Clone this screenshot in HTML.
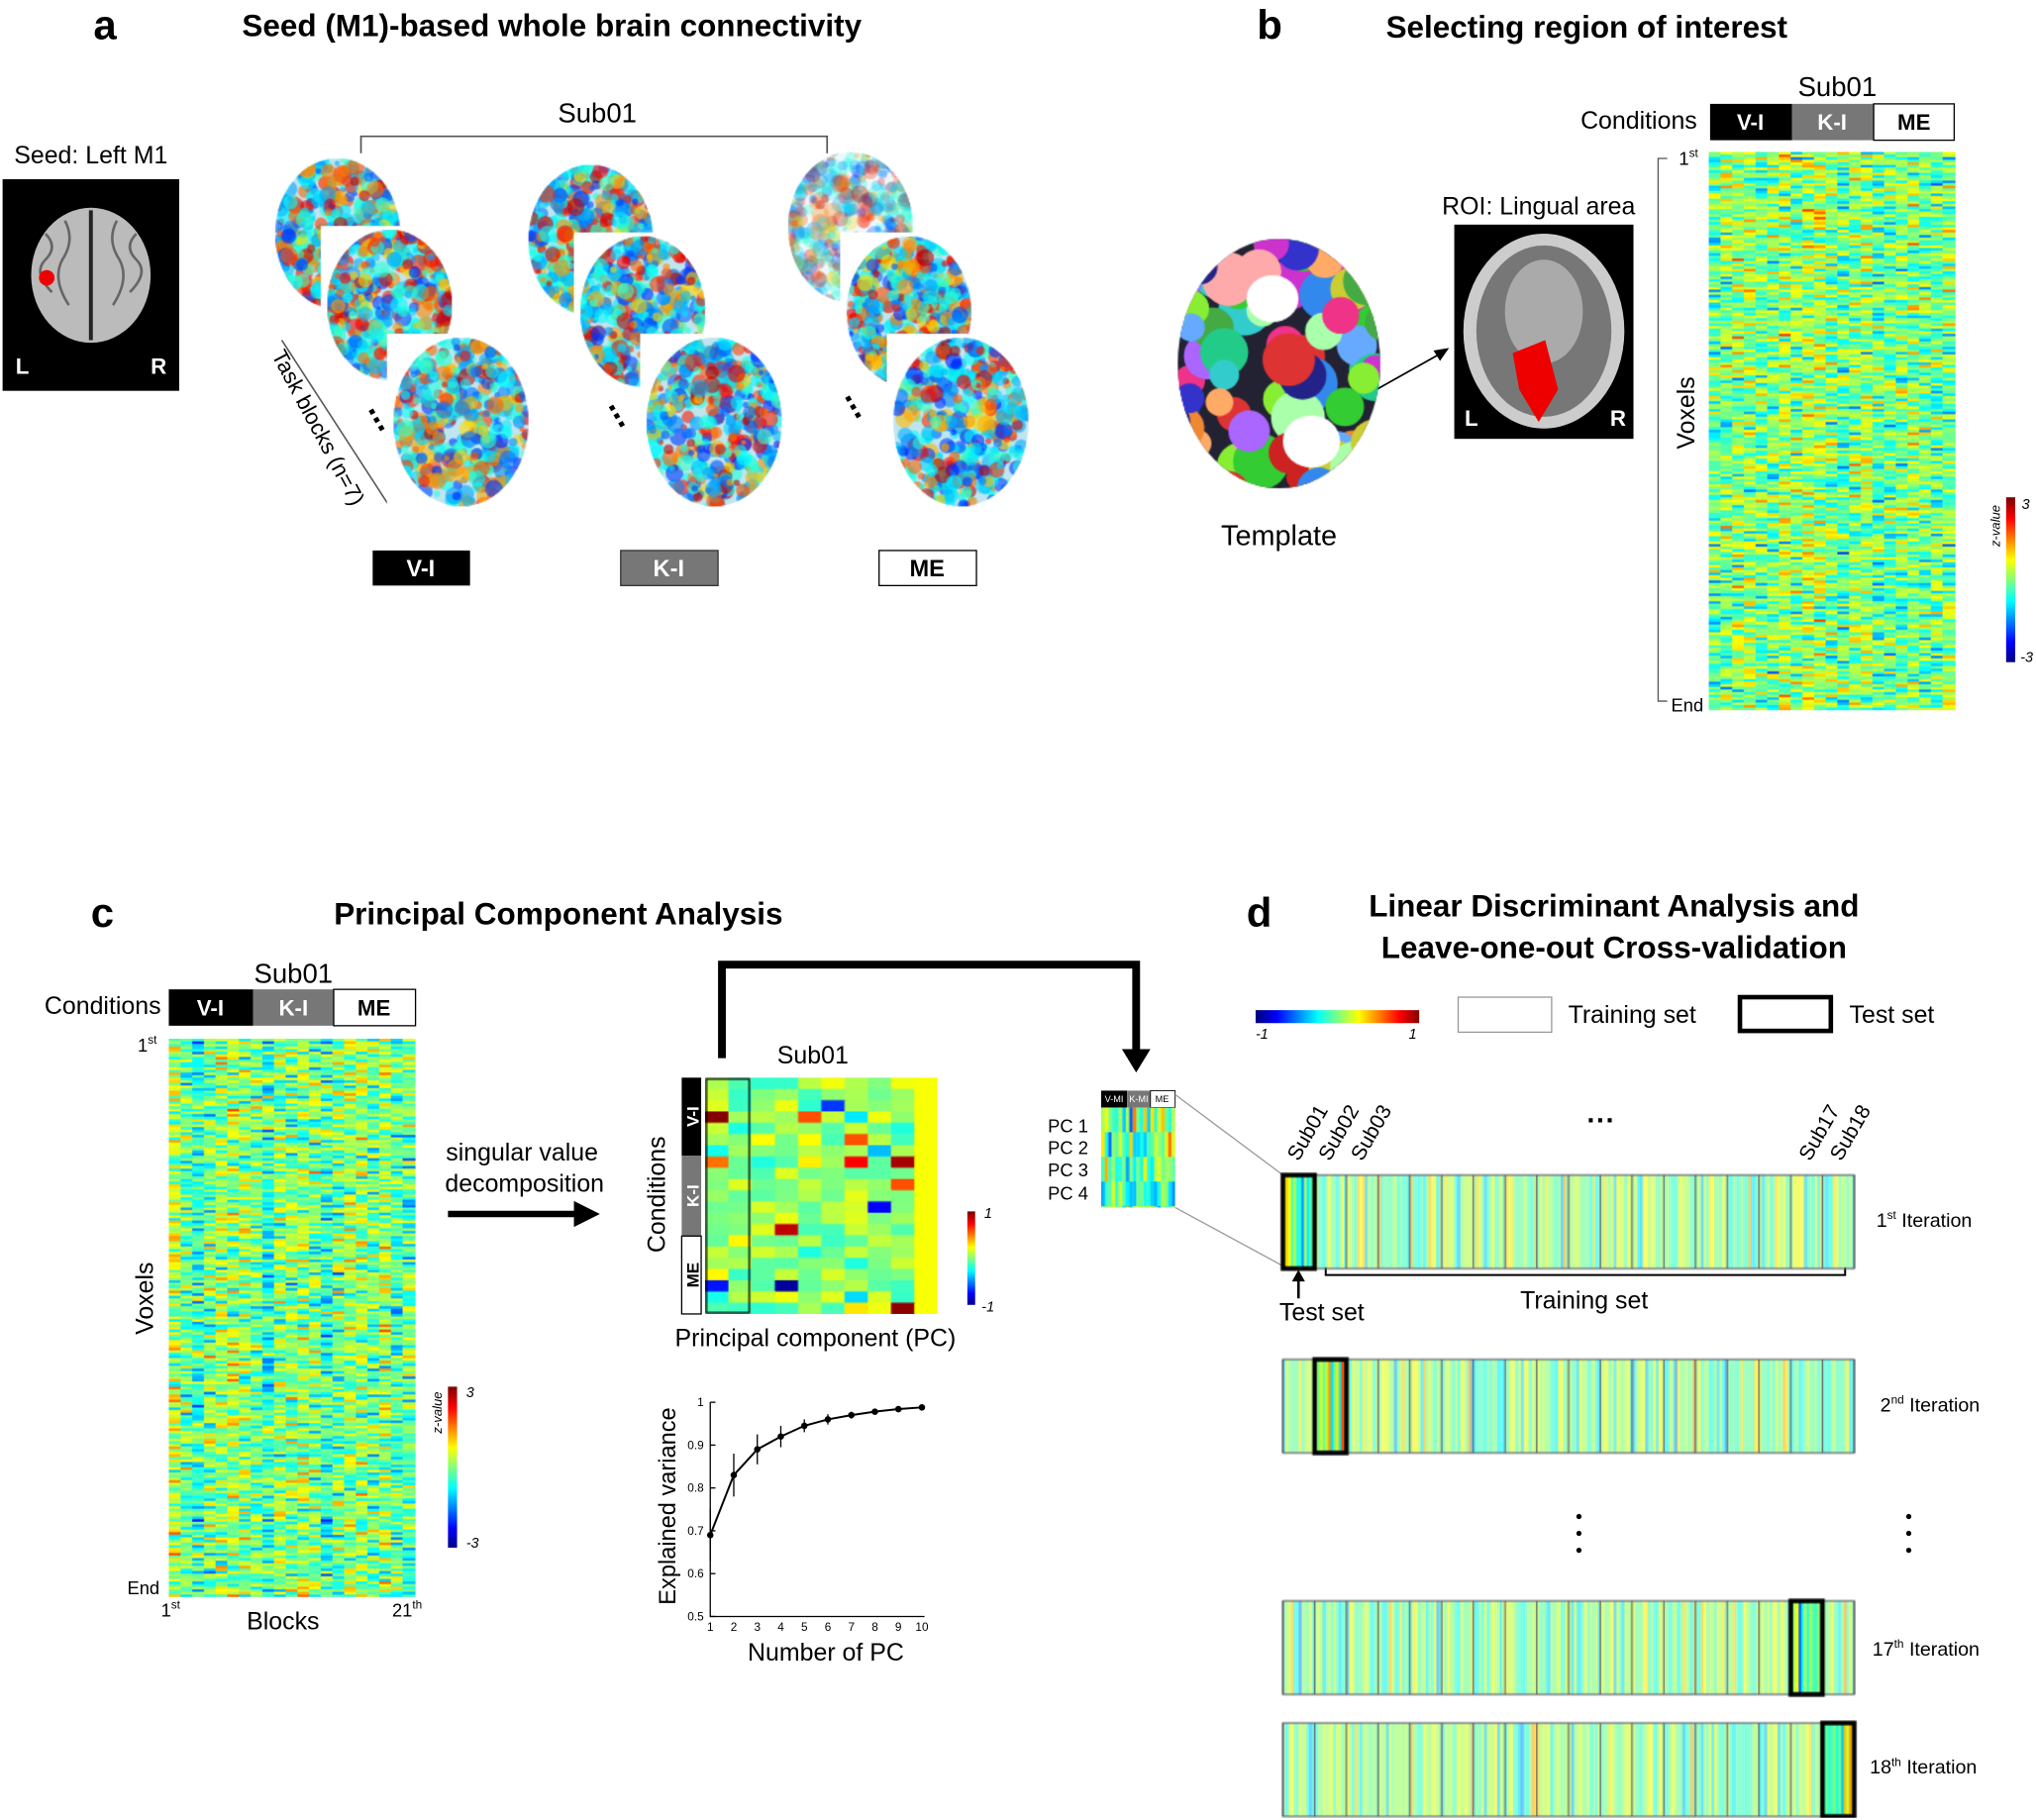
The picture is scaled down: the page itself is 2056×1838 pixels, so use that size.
<!DOCTYPE html>
<html><head><meta charset="utf-8"><style>
html,body{margin:0;padding:0;background:#fff;width:2056px;height:1838px;overflow:hidden}
#c{position:absolute;left:0;top:0;width:1568px;height:1402px;transform:scale(1.31122);transform-origin:0 0;font-family:"Liberation Sans",sans-serif;color:#000}
canvas{position:absolute}
svg{position:absolute;left:0;top:0}
</style></head><body><div id="c">
<svg width="1568" height="1402" viewBox="0 0 1568 1402" font-family="Liberation Sans, sans-serif">
<g font-weight="bold">
<text x="72" y="30" font-size="32">a</text>
<text x="425" y="28" font-size="24" text-anchor="middle">Seed (M1)-based whole brain connectivity</text>
<text x="968" y="30" font-size="32">b</text>
<text x="1222" y="29" font-size="24" text-anchor="middle">Selecting region of interest</text>
<text x="70" y="714" font-size="32">c</text>
<text x="430" y="712" font-size="24" text-anchor="middle">Principal Component Analysis</text>
<text x="960" y="714" font-size="32">d</text>
<text x="1243" y="706" font-size="24" text-anchor="middle">Linear Discriminant Analysis and</text>
<text x="1243" y="738" font-size="24" text-anchor="middle">Leave-one-out Cross-validation</text>
</g>
<g font-size="19">
<text x="70" y="126" text-anchor="middle">Seed: Left M1</text>
<text x="460" y="94" text-anchor="middle" font-size="21">Sub01</text>
<text x="985" y="420" text-anchor="middle" font-size="22">Template</text>
<text x="1185" y="165" text-anchor="middle">ROI: Lingual area</text>
<text x="1415" y="74" text-anchor="middle" font-size="21">Sub01</text>
<text x="1307" y="99" text-anchor="end">Conditions</text>
<text x="226" y="757" text-anchor="middle" font-size="21">Sub01</text>
<text x="124" y="781" text-anchor="end">Conditions</text>
<text x="402" y="894" text-anchor="middle">singular value</text>
<text x="404" y="918" text-anchor="middle">decomposition</text>
<text x="626" y="819" text-anchor="middle">Sub01</text>
<text x="628" y="1037" text-anchor="middle">Principal component (PC)</text>
<text x="636" y="1279" text-anchor="middle">Number of PC</text>
<text x="218" y="1255" text-anchor="middle">Blocks</text>
<text x="1257" y="788" text-anchor="middle">Training set</text>
<text x="1457" y="788" text-anchor="middle">Test set</text>
<text x="1018" y="1017" text-anchor="middle">Test set</text>
<text x="1220" y="1008" text-anchor="middle">Training set</text>
</g>
<text transform="translate(1305,318) rotate(-90)" font-size="19" text-anchor="middle">Voxels</text>
<text transform="translate(118,1000) rotate(-90)" font-size="19" text-anchor="middle">Voxels</text>
<text transform="translate(512,920) rotate(-90)" font-size="19" text-anchor="middle">Conditions</text>
<text transform="translate(520,1160) rotate(-90)" font-size="18" text-anchor="middle">Explained variance</text>
<text transform="translate(240,332) rotate(62)" font-size="17" text-anchor="middle">Task blocks (n=7)</text>
<line x1="217" y1="262" x2="300" y2="390" stroke="#555" stroke-width="1.2"/>
<path d="M278 118 V105 H637 V118" fill="none" stroke="#555" stroke-width="1.3"/>
<rect x="2" y="138" width="136" height="163" fill="#000"/>
<ellipse cx="70" cy="212" rx="46" ry="52" fill="#bbb"/>
<path d="M70 162 V262" stroke="#222" stroke-width="3"/>
<g stroke="#666" stroke-width="2" fill="none"><path d="M35 180 q10 10 0 20 q-10 10 5 25"/><path d="M50 170 q8 15 -2 30 q-8 15 5 35"/><path d="M90 170 q-8 15 2 30 q8 15 -5 35"/><path d="M105 180 q-10 10 0 20 q10 10 -5 25"/></g>
<circle cx="36" cy="214" r="6" fill="#e00"/>
<text x="12" y="288" fill="#fff" font-size="17" font-weight="bold">L</text>
<text x="116" y="288" fill="#fff" font-size="17" font-weight="bold">R</text>
<rect x="287" y="424" width="75" height="27" fill="#000"/><text x="324" y="444" fill="#fff" font-size="18" font-weight="bold" text-anchor="middle">V-I</text>
<rect x="478" y="424" width="75" height="27" fill="#777" stroke="#333"/><text x="515" y="444" fill="#fff" font-size="18" font-weight="bold" text-anchor="middle">K-I</text>
<rect x="677" y="424" width="75" height="27" fill="#fff" stroke="#000"/><text x="714" y="444" font-size="18" font-weight="bold" text-anchor="middle">ME</text>
<rect x="1120" y="173" width="138" height="165" fill="#000"/>
<ellipse cx="1189" cy="255" rx="62" ry="75" fill="#ccc"/>
<ellipse cx="1189" cy="255" rx="52" ry="66" fill="#777"/>
<ellipse cx="1189" cy="240" rx="30" ry="40" fill="#aaa"/>
<path d="M1165 272 L1190 262 L1200 300 L1185 325 L1170 300 Z" fill="#e00"/>
<text x="1128" y="328" fill="#fff" font-size="17" font-weight="bold">L</text>
<text x="1240" y="328" fill="#fff" font-size="17" font-weight="bold">R</text>
<line x1="978" y1="346" x2="1110" y2="272" stroke="#000" stroke-width="1.3"/>
<path d="M1116 268 l-12 2 5 8z" fill="#000"/>
<rect x="1317" y="80" width="63" height="28" fill="#000"/><text x="1348" y="100" fill="#fff" font-size="17" font-weight="bold" text-anchor="middle">V-I</text>
<rect x="1380" y="80" width="63" height="28" fill="#777"/><text x="1411" y="100" fill="#fff" font-size="17" font-weight="bold" text-anchor="middle">K-I</text>
<rect x="1443" y="80" width="62" height="28" fill="#fff" stroke="#000"/><text x="1474" y="100" font-size="17" font-weight="bold" text-anchor="middle">ME</text>
<path d="M1284 122 H1277 V540 H1284" fill="none" stroke="#555"/>
<text x="1293" y="127" font-size="14">1<tspan font-size="9" dy="-6">st</tspan></text>
<text x="1287" y="548" font-size="14">End</text>
<rect x="130" y="762" width="65" height="28" fill="#000"/><text x="162" y="782" fill="#fff" font-size="17" font-weight="bold" text-anchor="middle">V-I</text>
<rect x="195" y="762" width="62" height="28" fill="#777"/><text x="226" y="782" fill="#fff" font-size="17" font-weight="bold" text-anchor="middle">K-I</text>
<rect x="257" y="762" width="63" height="28" fill="#fff" stroke="#000"/><text x="288" y="782" font-size="17" font-weight="bold" text-anchor="middle">ME</text>
<text x="106" y="810" font-size="14">1<tspan font-size="9" dy="-6">st</tspan></text>
<text x="98" y="1228" font-size="14">End</text>
<text x="124" y="1245" font-size="14">1<tspan font-size="9" dy="-6">st</tspan></text>
<text x="302" y="1245" font-size="14">21<tspan font-size="9" dy="-6">th</tspan></text>
<g font-size="11" font-style="italic">
<text x="1557" y="392">3</text><text x="1556" y="510">-3</text>
<text transform="translate(1540,405) rotate(-90)" text-anchor="middle" font-size="10">z-value</text>
<text x="359" y="1076">3</text><text x="359" y="1192">-3</text>
<text transform="translate(340,1088) rotate(-90)" text-anchor="middle" font-size="10">z-value</text>
<text x="758" y="938">1</text><text x="756" y="1010">-1</text>
<text x="967" y="800">-1</text><text x="1085" y="800">1</text>
</g>
<line x1="345" y1="935" x2="445" y2="935" stroke="#000" stroke-width="5"/>
<path d="M462 935 l-20 -10 v20z" fill="#000"/>
<rect x="525" y="830" width="15" height="60" fill="#000"/>
<rect x="525" y="890" width="15" height="62" fill="#777"/>
<rect x="525" y="952" width="15" height="60" fill="#fff" stroke="#000"/>
<g font-size="13" font-weight="bold"><text transform="translate(538,860) rotate(-90)" fill="#fff" text-anchor="middle">V-I</text><text transform="translate(538,921) rotate(-90)" fill="#fff" text-anchor="middle">K-I</text><text transform="translate(538,982) rotate(-90)" text-anchor="middle">ME</text></g>
<path d="M556 815 V743 H875 V812" fill="none" stroke="#000" stroke-width="6"/>
<path d="M875 826 l-11 -18 h22z" fill="#000"/>
<rect x="848" y="840" width="20" height="13" fill="#000"/><rect x="868" y="840" width="18" height="13" fill="#777"/><rect x="886" y="840" width="19" height="13" fill="#fff" stroke="#000" stroke-width=".7"/>
<g font-size="7" text-anchor="middle"><text x="858" y="849" fill="#fff">V-MI</text><text x="877" y="849" fill="#fff">K-MI</text><text x="895" y="849">ME</text></g>
<g font-size="14"><text x="807" y="872">PC 1</text><text x="807" y="889">PC 2</text><text x="807" y="906">PC 3</text><text x="807" y="924">PC 4</text></g>
<line x1="905" y1="843" x2="988" y2="905" stroke="#999"/><line x1="905" y1="930" x2="988" y2="975" stroke="#999"/>
<g stroke="#000" fill="none" stroke-width="1"><path d="M547 1080 V1245 H712"/></g>
<rect x="1123" y="768" width="72" height="27" fill="#fff" stroke="#999"/>
<rect x="1340" y="768" width="70" height="26" fill="none" stroke="#000" stroke-width="3.5"/>
<g font-size="16"><text transform="translate(1000,895) rotate(-60)">Sub01</text><text transform="translate(1024,895) rotate(-60)">Sub02</text><text transform="translate(1049,895) rotate(-60)">Sub03</text><text transform="translate(1394,895) rotate(-60)">Sub17</text><text transform="translate(1418,895) rotate(-60)">Sub18</text></g>
<text x="1233" y="870" font-size="22" text-anchor="middle" font-weight="bold">···</text>
<path d="M1000 982 v18" stroke="#000" stroke-width="2"/><path d="M1000 978 l-5 9 h10z" fill="#000"/>
<path d="M1021 976 v6 H1421 v-6" fill="none" stroke="#000" stroke-width="1.5"/>
<g font-size="15"><text x="1445" y="945">1<tspan font-size="9" dy="-6">st</tspan><tspan dy="6"> Iteration</tspan></text>
<text x="1448" y="1087">2<tspan font-size="9" dy="-6">nd</tspan><tspan dy="6"> Iteration</tspan></text>
<text x="1442" y="1275">17<tspan font-size="9" dy="-6">th</tspan><tspan dy="6"> Iteration</tspan></text>
<text x="1440" y="1366">18<tspan font-size="9" dy="-6">th</tspan><tspan dy="6"> Iteration</tspan></text></g>
<g fill="#000"><circle cx="1216" cy="1168" r="2"/><circle cx="1216" cy="1181" r="2"/><circle cx="1216" cy="1194" r="2"/><circle cx="1470" cy="1168" r="2"/><circle cx="1470" cy="1181" r="2"/><circle cx="1470" cy="1194" r="2"/></g>
<g id="plotg"></g>
</svg>
<canvas id="brains" width="1568" height="420" style="left:0;top:0"></canvas>
<svg width="1568" height="420" viewBox="0 0 1568 420"><g font-size="26" font-weight="bold"><text transform="translate(283,315) rotate(60)">...</text><text transform="translate(468,312) rotate(60)">...</text><text transform="translate(650,305) rotate(60)">...</text></g></svg>
<canvas id="hb" width="190" height="430" style="left:1316px;top:117px"></canvas>
<canvas id="hc" width="190" height="430" style="left:130px;top:800px"></canvas>
<canvas id="pca" width="179" height="182" style="left:543px;top:830px"></canvas>
<canvas id="spc" width="57" height="77" style="left:848px;top:853px"></canvas>
<canvas id="cb1" width="7" height="127" style="left:1545px;top:383px"></canvas>
<canvas id="cb2" width="7" height="124" style="left:345px;top:1068px"></canvas>
<canvas id="cb3" width="6" height="72" style="left:745px;top:933px"></canvas>
<canvas id="cb4" width="126" height="10" style="left:967px;top:778px"></canvas>
<canvas id="tmpl" width="170" height="200" style="left:900px;top:180px"></canvas>
<canvas id="dd" width="460" height="500" style="left:985px;top:900px"></canvas>
</div>
<script>
var s=7;function R(){s=(s*16807)%2147483647;return s/2147483647}
function jet(v){v=Math.max(0,Math.min(1,v));var r=Math.min(1,Math.max(0,1.5-Math.abs(4*v-3))),g=Math.min(1,Math.max(0,1.5-Math.abs(4*v-2))),b=Math.min(1,Math.max(0,1.5-Math.abs(4*v-1)));return 'rgb('+(r*255|0)+','+(g*255|0)+','+(b*255|0)+')'}
function G(){return (R()+R()+R()-1.5)}
function heat(id,cols,rh,sp){var c=document.getElementById(id),x=c.getContext('2d'),W=c.width,H=c.height,cw=W/cols;var bias=[];for(var i=0;i<cols;i++)bias.push(G()*0.06);
for(var y=0;y<H;y+=rh)for(var i=0;i<cols;i++){x.fillStyle=jet(0.5+bias[i]+G()*sp);x.fillRect(Math.floor(i*cw),y,Math.ceil(cw),rh)}}
heat('hb',21,2,0.2);heat('hc',21,2,0.2);
(function(){var c=document.getElementById('pca'),x=c.getContext('2d'),cw=179/10,rh=182/21;for(var r=0;r<21;r++)for(var i=0;i<10;i++){var v=0.5+G()*0.12;if(R()<0.06)v=R();x.fillStyle=jet(i==9?0.62:v);x.fillRect(i*cw,r*rh,cw+1,rh+1)}
x.strokeStyle='#000';x.lineWidth=1.2;x.strokeRect(1,1,33,180)})();
(function(){var c=document.getElementById('spc'),x=c.getContext('2d');for(var y=0;y<77;y+=19)for(var i=0;i<21;i++){x.fillStyle=jet(0.5+G()*0.25);x.fillRect(i*57/21,y,3,19)}})();
function cbv(id){var c=document.getElementById(id),x=c.getContext('2d');for(var y=0;y<c.height;y++){x.fillStyle=jet(1-y/c.height);x.fillRect(0,y,c.width,1)}}
cbv('cb1');cbv('cb2');cbv('cb3');
(function(){var c=document.getElementById('cb4'),x=c.getContext('2d');for(var i=0;i<126;i++){x.fillStyle=jet(i/126);x.fillRect(i,0,1,10)}})();
(function(){var c=document.getElementById('brains'),x=c.getContext('2d');
var groups=[[260,180,300,235,355,325],[455,185,495,240,550,325],[655,175,700,240,740,325]];
groups.forEach(function(g,gi){for(var k=0;k<3;k++){var cx=g[k*2],cy=g[k*2+1],rx=k==2?52:48,ry=k==2?65:58;
if(k>0){x.fillStyle='#fff';x.fillRect(cx-rx-5,cy-ry-3,rx*2+10,ry*2+6)}
x.save();x.beginPath();x.ellipse(cx,cy,rx,ry,0,0,7);var pale=(gi==2&&k==0);x.fillStyle=pale?'#eef8fb':'#bfe6f0';x.fill();x.clip();
for(var n=0;n<500;n++){var v=R();var col=v<0.35?jet(0.15+R()*0.2):v<0.7?jet(0.65+R()*0.3):jet(0.35+R()*0.1);x.fillStyle=col;x.globalAlpha=pale?0.3:0.6;x.beginPath();x.arc(cx-rx+R()*2*rx,cy-ry+R()*2*ry,2+R()*5,0,7);x.fill()}
x.restore();x.globalAlpha=1;}});})();
(function(){var c=document.getElementById('tmpl'),x=c.getContext('2d');x.save();x.beginPath();x.ellipse(85,100,78,96,0,0,7);x.fillStyle='#223';x.fill();x.clip();
var cols=['#d33','#3c3','#33c','#cc3','#c3c','#3cc','#e83','#8e3','#38e','#e38','#a6f','#6af','#fa6','#afa','#faa','#4a4','#228','#c22','#2c8'];
for(var n=0;n<80;n++){x.fillStyle=cols[n%cols.length];x.beginPath();x.arc(R()*170,R()*200,10+R()*12,0,7);x.fill()}
x.fillStyle='#fff';x.beginPath();x.ellipse(80,50,20,18,0,0,7);x.fill();x.beginPath();x.ellipse(110,160,22,20,0,0,7);x.fill();x.restore()})();
(function(){var c=document.getElementById('dd'),x=c.getContext('2d');var rows=[5,147,333,427],test=[0,1,16,17];var cw=440/18;
rows.forEach(function(ry,ri){for(var col=0;col<18;col++){for(var i=0;i<12;i++){var t=col==test[ri];x.fillStyle=jet(0.5+G()*(t?0.25:0.18));x.globalAlpha=t?1:0.55;x.fillRect(3+col*cw+i*cw/12,ry,cw/12+0.5,72)}}
x.globalAlpha=1;x.strokeStyle='#556';x.lineWidth=1;for(var col=0;col<=18;col++){x.beginPath();x.moveTo(3+col*cw,ry);x.lineTo(3+col*cw,ry+72);x.stroke()}
x.strokeRect(3,ry,440,72);x.strokeStyle='#000';x.lineWidth=3.5;x.strokeRect(3+test[ri]*cw,ry,cw,72)})})();
(function(){var g=document.getElementById('plotg'),h='';
function X(n){return 547+(n-1)*(163/9)}function Y(v){return 1245-(v-0.5)*330}
for(var v=0.5;v<=1.001;v+=0.1){h+='<text x="542" y="'+(Y(v)+3)+'" font-size="9" text-anchor="end">'+(Math.round(v*10)/10)+'</text><line x1="547" x2="551" y1="'+Y(v)+'" y2="'+Y(v)+'" stroke="#000"/>'}
for(var n=1;n<=10;n++)h+='<text x="'+X(n)+'" y="1256" font-size="9" text-anchor="middle">'+n+'</text>';
var vals=[0.69,0.83,0.89,0.92,0.945,0.96,0.97,0.978,0.984,0.988],err=[0.06,0.05,0.035,0.025,0.015,0.012,0.008,0.006,0.004,0.003],p='';
vals.forEach(function(v,i){var xx=X(i+1),yy=Y(v);p+=(i?'L':'M')+xx+' '+yy;h+='<line x1="'+xx+'" x2="'+xx+'" y1="'+Y(v-err[i])+'" y2="'+Y(v+err[i])+'" stroke="#000"/><circle cx="'+xx+'" cy="'+yy+'" r="2.5"/>'});
h+='<path d="'+p+'" fill="none" stroke="#000" stroke-width="1.5"/>';g.innerHTML=h})();
</script>
</body></html>
